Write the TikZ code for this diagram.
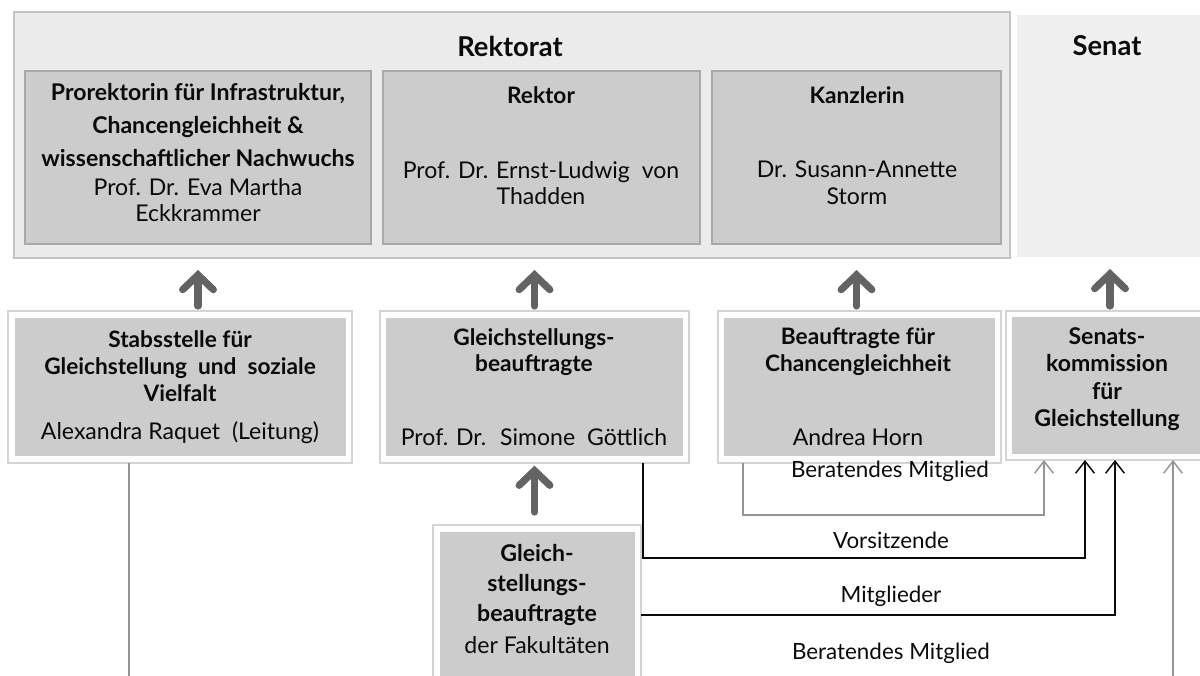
\documentclass[tikz,border=0pt]{standalone}
\usepackage{fontspec}
\setmainfont{Lato}
\usetikzlibrary{arrows.meta,fit}
\definecolor{rektbg}{HTML}{EBEBEB}
\definecolor{rektline}{HTML}{C4C4C4}
\definecolor{senbg}{HTML}{F0F0F0}
\definecolor{boxgray}{HTML}{CCCCCC}
\definecolor{boxline}{HTML}{A8A8A8}
\definecolor{frameline}{HTML}{D4D4D4}
\definecolor{arrowgray}{HTML}{636363}
\definecolor{thingray}{HTML}{959595}
\definecolor{ink}{HTML}{0A0A0A}
\tikzset{
  fitbox/.style={inner sep=0pt, outer sep=0pt},
  rektbox/.style={fitbox, fill=rektbg, draw=rektline, line width=0.9pt},
  senbox/.style={fitbox, fill=senbg},
  inbox/.style={fitbox, fill=boxgray, draw=boxline, line width=0.8pt},
  framebox/.style={fitbox, fill=white, draw=frameline, line width=0.8pt},
  fillbox/.style={fitbox, fill=boxgray},
  ttl/.style={font=\bfseries\fontsize{17}{20}\selectfont, align=center, text=ink, inner sep=0pt},
  bigttl/.style={font=\bfseries\fontsize{20.5}{24}\selectfont, align=center, text=ink, inner sep=0pt},
  txt/.style={font=\fontsize{17.3}{20}\selectfont, align=center, text=ink, inner sep=0pt},
  lbl/.style={font=\fontsize{16.8}{20}\selectfont, text=ink, inner sep=0pt},
  bigarrow/.style={draw=arrowgray, line width=5.4pt, line cap=round,
     -{Straight Barb[length=11pt,width=23pt,line cap=round]}},
  grayconn/.style={draw=thingray, line width=1.1pt,
     -{Straight Barb[length=9pt,width=14pt]}},
  blackconn/.style={draw=ink, line width=1.1pt,
     -{Straight Barb[length=9pt,width=14pt]}},
}
\begin{document}
\begin{tikzpicture}[x=0.75pt,y=-0.75pt]
\useasboundingbox (0,0) rectangle (1200,675);
\clip (0,0) rectangle (1200,675);

% top level
\node[rektbox, fit={(14,12) (1010,258)}] (rektorat) {};
\node[senbox, fit={(1017,15) (1203,257)}] (senat) {};
\node[bigttl] (rektoratT) at (510,46) {Rektorat};
\node[bigttl] (senatT) at (1107,46) {Senat};

\node[inbox, fit={(25,71) (371,244)}] (prorek) {};
\node[inbox, fit={(383,71) (700,244)}] (rektor) {};
\node[inbox, fit={(712,71) (1001,244)}] (kanzler) {};

\node[ttl, font=\bfseries\fontsize{17.3}{25}\selectfont] (prorekT) at (198,125) {Prorektorin für Infrastruktur,\\Chancengleichheit \&\\wissenschaftlicher Nachwuchs};
\node[txt, font=\fontsize{17.3}{19}\selectfont] (prorekN) at (198,200) {Prof. Dr. Eva Martha\\Eckkrammer};
\node[ttl] (rektorT) at (541,95) {Rektor};
\node[txt] (rektorN) at (541,183) {Prof. Dr. Ernst-Ludwig \ von\\Thadden};
\node[ttl] (kanzlerT) at (857,95) {Kanzlerin};
\node[txt] (kanzlerN) at (857,183) {Dr. Susann-Annette\\Storm};

% second row
\node[framebox, fit={(8,311) (352,463)}] (stabF) {};
\node[fillbox, fit={(15,318) (346,456)}] (stab) {};
\node[ttl] (stabT) at (180,366) {Stabsstelle für\\Gleichstellung \ und \ soziale\\Vielfalt};
\node[txt] (stabN) at (180,433) {Alexandra Raquet \ (Leitung)};

\node[framebox, fit={(380,311) (689,463)}] (gleichF) {};
\node[fillbox, fit={(386,318) (683,456)}] (gleich) {};
\node[ttl] (gleichT) at (534,352) {Gleichstellungs-\\beauftragte};
\node[txt] (gleichN) at (534,437) {Prof. Dr. \ Simone \ Göttlich};

\node[framebox, fit={(718,311) (1001,463)}] (beaufF) {};
\node[fillbox, fit={(724,318) (995,456)}] (beauf) {};
\node[ttl] (beaufT) at (858,352) {Beauftragte für\\Chancengleichheit};
\node[txt] (beaufN) at (858,437) {Andrea Horn};

\node[framebox, fit={(1006,311) (1203,460)}] (senkomF) {};
\node[fillbox, fit={(1012,317) (1203,454)}] (senkom) {};
\node[ttl, font=\bfseries\fontsize{17.3}{20.5}\selectfont] (senkomT) at (1107,379) {Senats-\\kommission\\für\\Gleichstellung};

\node[framebox, fit={(433,525) (641,690)}] (fakF) {};
\node[fillbox, fit={(440,532) (635,690)}] (fak) {};
\node[ttl, font=\bfseries\fontsize{17.3}{22.5}\selectfont] (fakT) at (537,585) {Gleich-\\stellungs-\\beauftragte};
\node[txt] (fakN) at (537,645) {der Fakultäten};

% thick arrows
\draw[bigarrow] (prorek.south |- stabF.north) ++(0,-5) -- ([yshift=-9pt]prorek.south |- rektorat.south);
\draw[bigarrow] (gleichF.north) ++(0,-5) -- ([yshift=-9pt]gleichF.north |- rektorat.south);
\draw[bigarrow] (kanzler.south |- beaufF.north) ++(0,-5) -- ([yshift=-9pt]kanzler.south |- rektorat.south);
\draw[bigarrow] (senat.south |- senkomF.north) ++(0,-5) -- ([yshift=-9pt]senat.south |- senat.south);
\draw[bigarrow] (gleichF.south |- fakF.north) ++(0,-13) -- ([yshift=-2pt]gleichF.south);

% connectors
\coordinate (b1) at (129,700);
\coordinate (b2) at (1173,700);
\draw[grayconn] (stabF.south -| b1) -- (b1) -- (b2) -- (b2 |- senkomF.south);

\coordinate (b3) at (743,515);
\coordinate (b4) at (1044,515);
\draw[grayconn] (beaufF.south -| b3) -- (b3) -- (b4) -- (b4 |- senkomF.south);

\coordinate (b5) at (643,558);
\coordinate (b6) at (1085,558);
\draw[blackconn] (gleichF.south -| b5) -- (b5) -- (b6) -- (b6 |- senkomF.south);

\coordinate (b7) at (1115,615);
\draw[blackconn] (fakF.east |- b7) -- (b7) -- (b7 |- senkomF.south);

\node[lbl] (l1) at (890,471) {Beratendes Mitglied};
\node[lbl] (l2) at (891,540) {Vorsitzende};
\node[lbl] (l3) at (891,596) {Mitglieder};
\node[lbl] (l4) at (891,653) {Beratendes Mitglied};
\end{tikzpicture}
\end{document}
